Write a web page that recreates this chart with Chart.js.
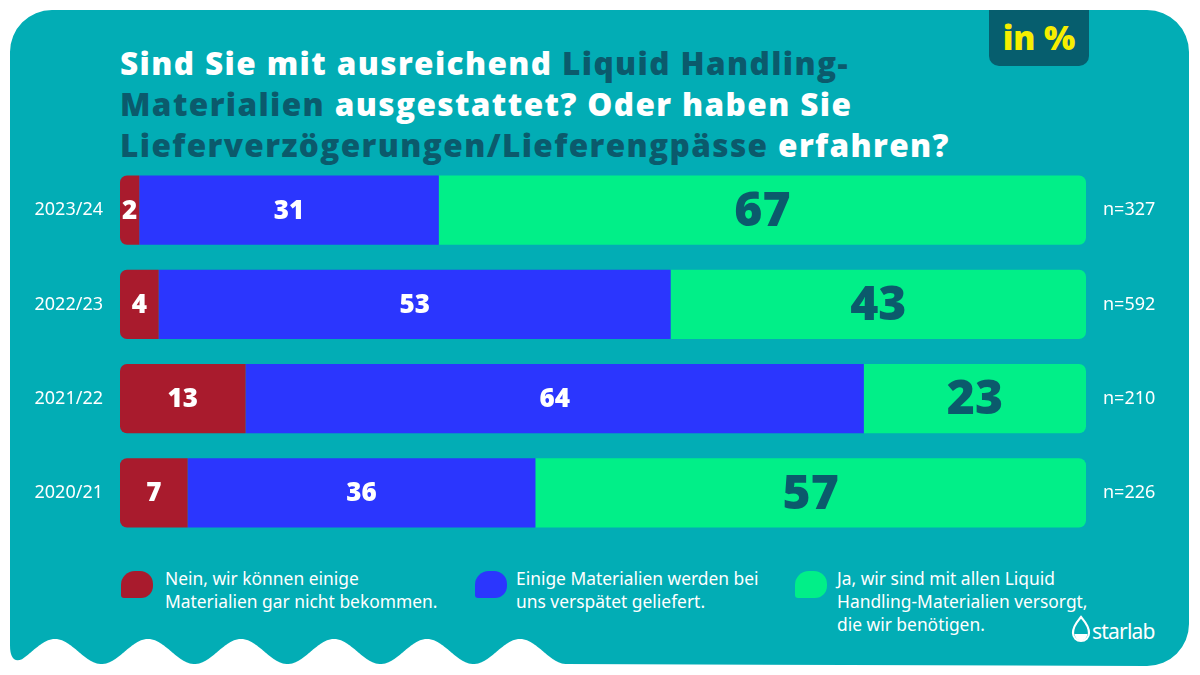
<!DOCTYPE html>
<html>
<head>
<meta charset="utf-8">
<script src="https://cdn.jsdelivr.net/npm/chart.js@4.4.1/dist/chart.umd.min.js"></script>
<style>
  html,body{margin:0;padding:0;background:#fff;}
  #page{position:relative;width:1200px;height:675px;overflow:hidden;background:#fff;font-family:"Noto Sans",sans-serif;}
  #bg{position:absolute;left:0;top:0;}
  #badge{position:absolute;left:989px;top:10px;width:100px;height:56px;background:#065e6e;border-radius:0 0 10px 10px;
    color:#f7ee00;font-family:"Open Sans",sans-serif;font-weight:800;font-size:33px;line-height:56px;text-align:center;}
  #title{position:absolute;left:120px;top:42px;width:1000px;color:#fff;font-family:"Open Sans",sans-serif;font-weight:800;
    font-size:31.5px;line-height:41px;letter-spacing:1.4px;}
  #title .hl{color:#0b5a6c;}
  #chartWrap{position:absolute;left:0;top:163px;width:1200px;height:377px;}
  .leg{position:absolute;top:567px;color:#fff;font-family:"Noto Sans",sans-serif;font-size:17.4px;line-height:23px;}
  .mk{position:absolute;top:571px;width:32px;height:27px;border-radius:14px 13px 12px 3px;}
  #logo{position:absolute;left:1070px;top:614px;}
  #logoText{position:absolute;left:1092px;top:618px;color:#fff;font-family:"Noto Sans",sans-serif;font-size:21px;line-height:26px;letter-spacing:-0.8px;}
</style>
</head>
<body>
<div id="page">
  <svg id="bg" width="1200" height="675"></svg>
  <div id="badge">in %</div>
  <div id="title">Sind Sie mit ausreichend <span class="hl">Liquid Handling-<br>Materialien</span> ausgestattet? Oder haben Sie<br><span class="hl">Lieferverzögerungen/Lieferengpässe</span> erfahren?</div>
  <div id="chartWrap"><canvas id="c"></canvas></div>

  <div class="mk" style="left:121px;background:#a91b2d"></div>
  <div class="leg" style="left:165px">Nein, wir können einige<br>Materialien gar nicht bekommen.</div>
  <div class="mk" style="left:475px;background:#2b36fe"></div>
  <div class="leg" style="left:516px">Einige Materialien werden bei<br>uns verspätet geliefert.</div>
  <div class="mk" style="left:795px;background:#01ef88"></div>
  <div class="leg" style="left:837px">Ja, wir sind mit allen Liquid<br>Handling-Materialien versorgt,<br>die wir benötigen.</div>

  <svg id="logo" width="22" height="32" viewBox="0 0 22 32">
    <path d="M11 3 C8 7 3 11 3 19 A8 8 0 0 0 19 19 C19 11 14 7 11 3 Z" fill="none" stroke="#fff" stroke-width="2.2"/>
    <path d="M4.5 20 A6.5 6.5 0 0 0 17.5 20 Z" fill="#fff"/>
  </svg>
  <div id="logoText">starlab</div>
</div>

<script>
// ---- data ----
const categories = ['2023/24', '2022/23', '2021/22', '2020/21'];
const sampleSizes = ['n=327', 'n=592', 'n=210', 'n=226'];
const seriesNames = [
  'Nein, wir können einige Materialien gar nicht bekommen.',
  'Einige Materialien werden bei uns verspätet geliefert.',
  'Ja, wir sind mit allen Liquid Handling-Materialien versorgt, die wir benötigen.'
];
const neinValues = [2, 4, 13, 7];
const einigeValues = [31, 53, 64, 36];
const jaValues = [67, 43, 23, 57];

// ---- background card with wavy bottom ----
(function drawCard(){
  const svg = document.getElementById('bg');
  const L = 10, T = 10, R = 1189, B = 666, r = 42;
  let d = `M ${L} ${T + r} A ${r} ${r} 0 0 1 ${L + r} ${T} L ${R - r} ${T} A ${r} ${r} 0 0 1 ${R} ${T + r} L ${R} ${B - r} A ${r} ${r} 0 0 1 ${R - r} ${B}`;
  const waveEnd = 566;
  d += ` L ${waveEnd} ${B - 2}`;
  for (let x = waveEnd; x >= 22; x -= 1) {
    const y = 651.5 - 12.5 * Math.cos(2 * Math.PI * (x - 55) / 93);
    d += ` L ${x} ${y.toFixed(2)}`;
  }
  d += ` Q ${L} 664 ${L} 645 Z`;
  svg.innerHTML = `<path d="${d}" fill="#02adb5"/>`;
})();

// ---- segment label plugin ----
const segLabels = {
  id: 'segLabels',
  afterDatasetsDraw(chart) {
    const ctx = chart.ctx;
    chart.data.datasets.forEach((ds, i) => {
      const meta = chart.getDatasetMeta(i);
      meta.data.forEach((el, j) => {
        const p = el.getCenterPoint();
        ctx.save();
        ctx.font = ds.labelFont;
        ctx.fillStyle = ds.labelColor;
        ctx.textAlign = 'center';
        ctx.textBaseline = 'middle';
        ctx.fillText(String(ds.data[j]), p.x, p.y + ds.labelDy);
        ctx.restore();
      });
    });
  }
};

const noVPad = s => { s.paddingTop = 0; s.paddingBottom = 0; };
const R = 7;
new Chart(document.getElementById('c'), {
  type: 'bar',
  data: {
    labels: categories,
    datasets: [
      { label: seriesNames[0], data: neinValues, backgroundColor: '#a91b2d', borderSkipped: false,
        borderRadius: { topLeft: R, bottomLeft: R, topRight: 0, bottomRight: 0 },
        labelFont: '800 26px "Open Sans"', labelColor: '#ffffff', labelDy: 1 },
      { label: seriesNames[1], data: einigeValues, backgroundColor: '#2b36fe', borderSkipped: false, borderRadius: 0,
        labelFont: '800 26px "Open Sans"', labelColor: '#ffffff', labelDy: 1 },
      { label: seriesNames[2], data: jaValues, backgroundColor: '#01ef88', borderSkipped: false,
        borderRadius: { topLeft: 0, bottomLeft: 0, topRight: R, bottomRight: R },
        labelFont: '800 48px "Open Sans"', labelColor: '#0b5a6c', labelDy: 2 }
    ]
  },
  options: {
    indexAxis: 'y',
    responsive: true,
    maintainAspectRatio: false,
    animation: false,
    layout: { padding: 0 },
    datasets: { bar: { categoryPercentage: 1, barPercentage: 0.735, borderWidth: 0 } },
    plugins: { legend: { display: false }, tooltip: { enabled: false } },
    scales: {
      x: { stacked: true, min: 0, max: 100, display: false },
      y: {
        stacked: true, position: 'left',
        grid: { display: false, drawTicks: false }, border: { display: false },
        ticks: { color: '#ffffff', padding: 17, font: { family: 'Noto Sans', size: 18 } },
        afterFit: s => { s.width = 120; noVPad(s); }
      },
      y2: {
        type: 'category', labels: sampleSizes, position: 'right', offset: true,
        grid: { display: false, drawTicks: false }, border: { display: false },
        ticks: { color: '#ffffff', padding: 17, font: { family: 'Noto Sans', size: 18 } },
        afterFit: s => { s.width = 114; noVPad(s); }
      }
    }
  },
  plugins: [segLabels]
});
</script>
</body>
</html>
